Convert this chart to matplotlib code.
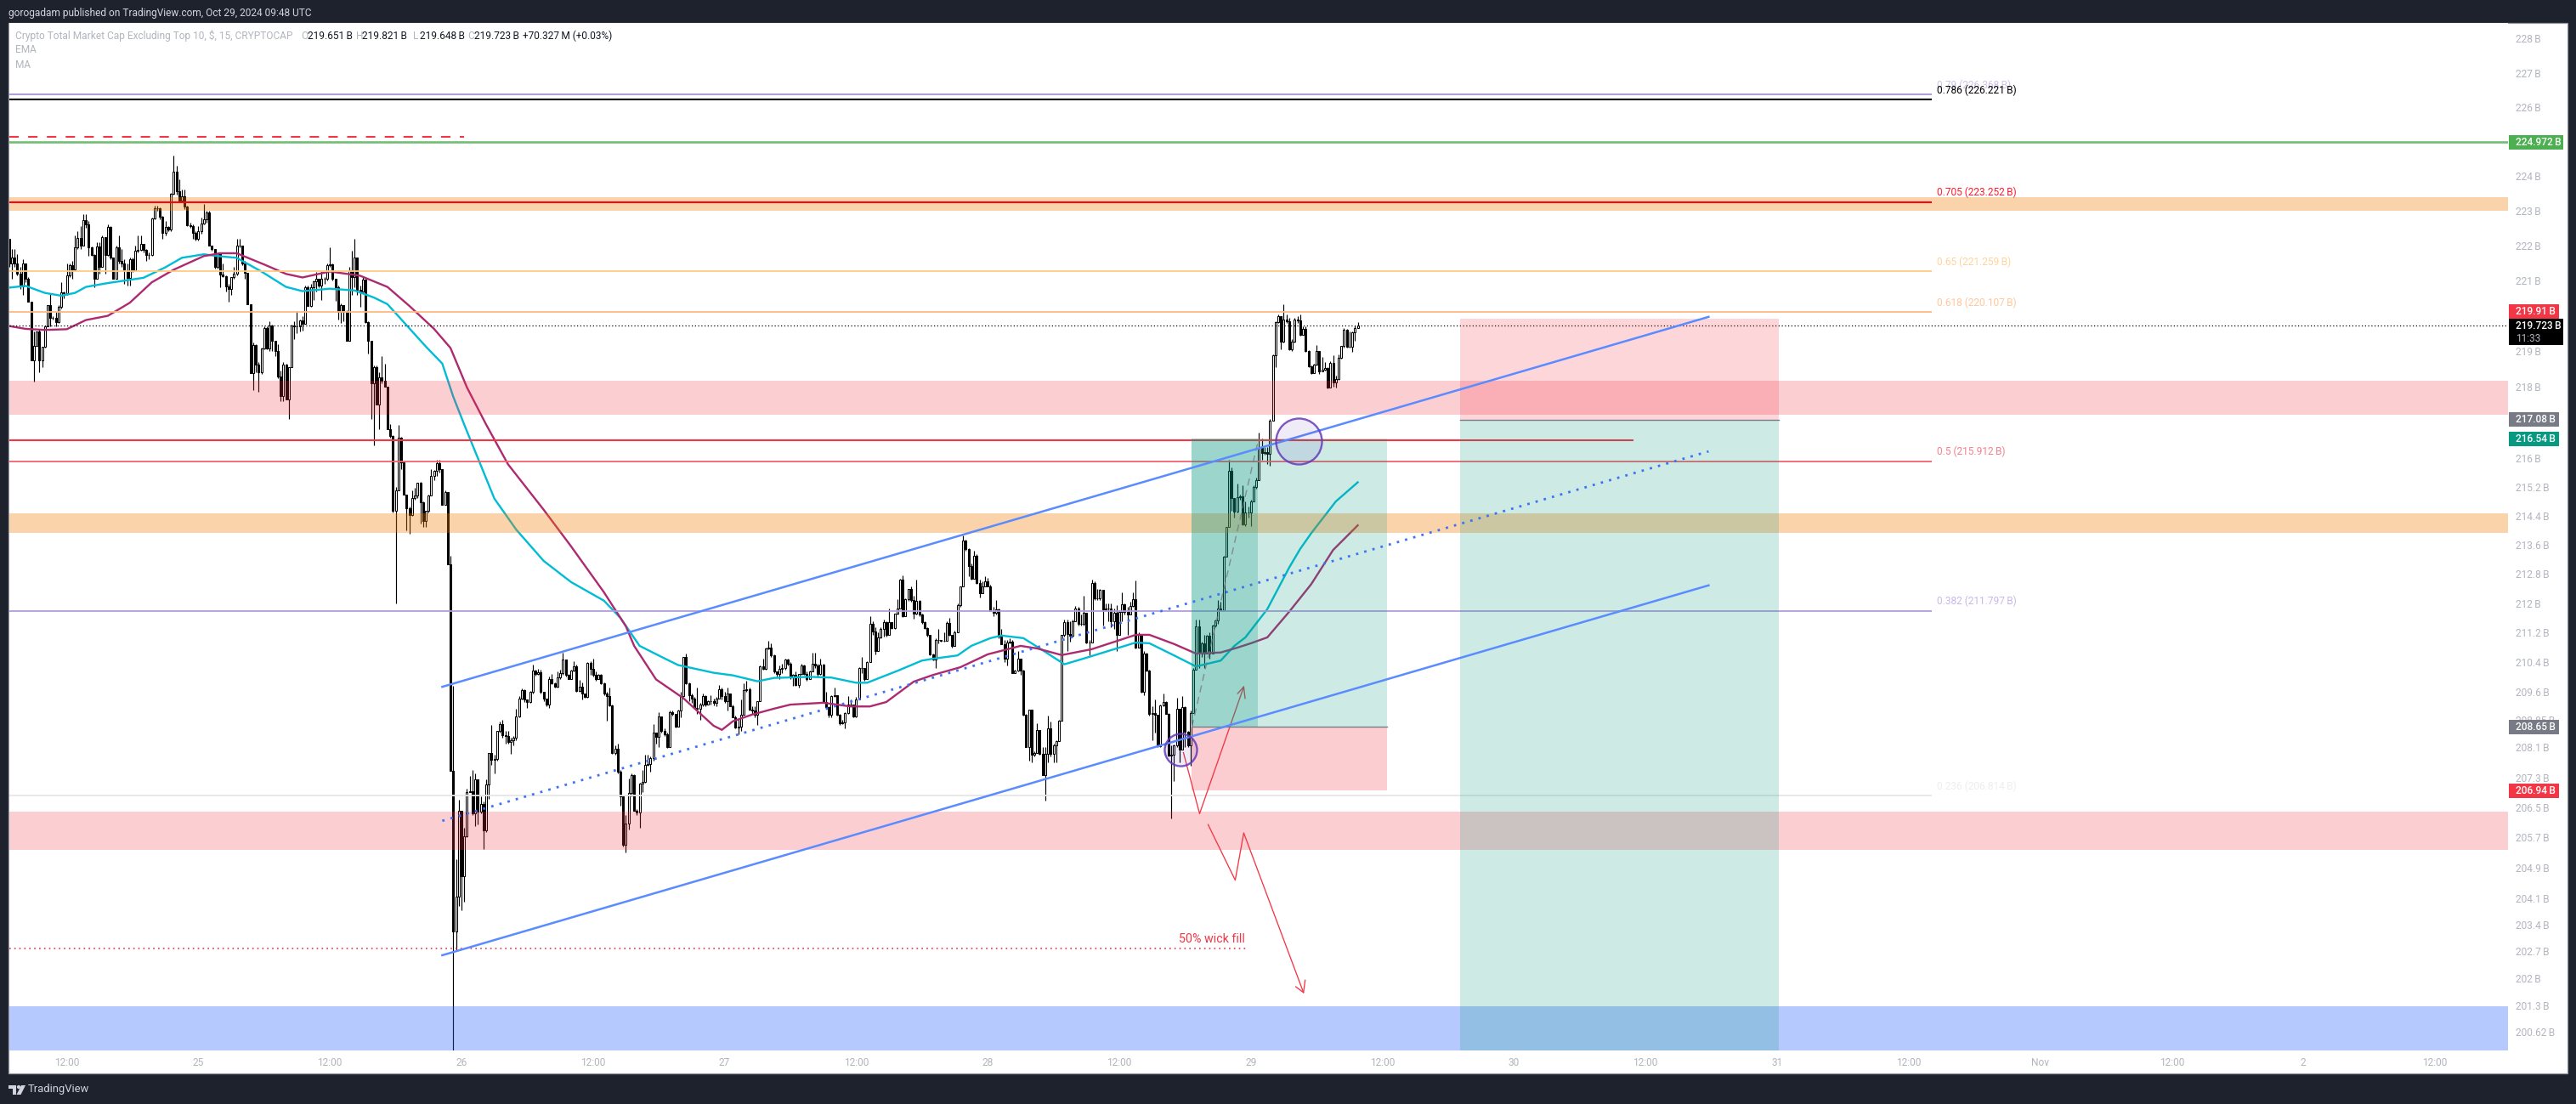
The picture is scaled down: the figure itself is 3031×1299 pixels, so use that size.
import numpy as np
import matplotlib
matplotlib.use("Agg")
import matplotlib.pyplot as plt
from matplotlib.patches import Rectangle, Polygon, Circle
from matplotlib.ticker import NullFormatter

plt.rcParams['font.family'] = ['Roboto', 'DejaVu Sans']

# 15 min candles, open of each bar = previous close
first_open = 222.2
closes = [
221.49,221.66,221.49,221.2,220.84,221.49,221.06,220.4,218.75,219.16,
219.55,218.73,219.12,219.7,220.3,219.95,219.93,219.82,220.25,220.67,
220.65,221.16,221.43,221.33,221.94,222.22,222.0,222.72,222.6,221.95,
221.74,221.05,221.97,221.4,222.25,221.74,222.53,221.65,221.05,221.94,
221.57,221.5,221.3,221.07,221.62,221.3,221.85,221.87,222.05,221.88,
221.74,221.72,222.77,223.08,223.07,222.83,222.36,222.53,222.45,223.48,
224.13,223.57,223.3,223.42,223.13,222.58,222.57,222.36,222.2,222.4,
222.64,222.75,222.95,222.0,221.9,221.4,221.78,221.18,221.12,220.83,
220.76,221.09,221.2,221.99,222,221.5,221.22,220.32,218.38,219.18,
218.63,218.4,219.07,219.66,219.07,219.73,219.3,219.0,218.28,217.73,
218.61,217.65,218.54,219.73,219.69,219.7,219.87,219.77,220.81,220.27,
220.81,220.97,221.06,220.86,221.05,221.05,221.45,221.46,221.05,220.81,
220.11,220.3,220.11,219.29,221.29,221.11,221.66,220.73,220.69,221.02,
219.83,219.29,218.09,218.54,217.51,218.27,218.17,217.99,216.82,216.63,
214.54,215.1,216.57,215.89,215,214.62,214.43,214.89,214.97,215.31,
214.78,214.25,214.53,214.97,215.5,215.66,215.87,215.69,214.71,215.07,
213.07,207.47,203.22,204.14,206.4,204.67,205.73,206.91,206.93,206.35,
207.25,206.38,206.59,205.88,207.11,207.95,207.76,207.8,208.54,208.73,
208.43,208.4,208.24,208.3,208.35,208.92,209.41,209.64,209.39,209.32,
209.59,210.16,210.08,210.13,209.59,209.41,209.24,209.95,209.82,209.73,
209.98,210.1,210.46,210.05,209.95,210.18,210.29,209.62,209.74,209.54,
209.45,210.38,210.22,210.05,209.95,210.05,209.82,209.56,209.48,209.22,
207.95,208.06,207.46,206.78,205.5,206.06,206.89,207.36,206.41,206.36,
207.14,207.17,207.62,207.66,207.81,208.49,208.38,208.92,208.54,208.45,
208.1,209.05,208.99,208.66,209.09,209.48,210.54,209.82,209.5,209.41,
209.15,209.13,209.26,209.48,209.26,209.34,209.34,209.3,209.42,209.67,
209.48,209.34,209.54,209.21,208.91,208.63,208.66,208.98,209.63,209.67,
209.12,209.1,208.98,209.34,210.29,210.21,210.78,210.8,210.58,210.14,
210.07,210.22,210.23,210.46,210.35,209.99,210.05,209.78,210.07,210.3,
210.07,209.93,210.14,210.35,210.3,210.07,210.33,209.31,209.19,208.98,
209.48,209.5,208.98,208.74,208.78,209.02,209.25,209.25,208.93,209.4,
210.25,210.24,209.93,210.4,211.43,211.22,210.71,211.08,211.31,211.48,
211.14,211.48,211.32,211.71,211.85,212.64,211.65,212.11,212.38,212.09,
211.71,212.07,211.7,211.48,211.32,211.14,210.6,210.46,211.0,211.0,
210.98,210.97,211.47,211.14,210.83,211.2,211.96,212.45,213.72,213.49,
213.02,212.68,213.3,212.55,212.28,212.47,212.6,212.47,211.78,211.73,
211.84,211.09,210.89,210.49,210.94,210.96,210.11,210.18,210.49,210.18,
208.98,208.11,209.11,207.91,207.95,208.56,207.93,207.36,207.93,208.62,
207.92,208.16,208.27,208.82,211.14,211.48,211.17,211.11,211.5,211.86,
211.44,211.44,211.74,210.92,210.93,212.55,212.13,212.13,212.36,211.84,
211.86,211.85,211.5,211.74,211.15,211.76,211.98,211.76,211.7,211.92,
212.11,210.79,211.15,209.59,210.64,210.18,209.0,209.03,208.98,208.14,
209.23,209.32,209.0,207.89,207.91,208.16,209.13,208.05,209.19,208.52,
208.16,209.02,210.2,211.37,210.64,210.9,210.64,211.11,210.64,211.4,
211.54,211.86,211.82,213.28,214.09,215.64,214.89,214.51,214.92,214.93,
214.17,214.49,214.49,214.81,215.2,215.4,216.29,216.15,216.17,216.13,
217.04,218.88,219.83,219.98,219.26,219.9,219.85,219.06,219.27,219.9,
219.87,219.45,219.64,219.01,218.58,218.38,218.62,219,218.43,218.48,
218.52,217.97,218.66,218.13,218.22,218.82,219.14,219.61,219.13,219.13,
219.53,219.65,219.723]
highs = [
222.2,221.9,221.9,221.75,221.4,221.6,221.5,221.1,220.4,219.55,
219.55,219.6,219.12,219.7,220.3,220.65,220,220.1,220.3,220.95,
220.7,221.5,221.5,221.55,222.3,222.4,222.55,222.9,222.9,222.7,
221.97,221.75,222.1,222.1,222.3,222.25,222.6,222.55,221.65,222,
222.3,221.9,221.6,221.5,221.65,221.65,222,222.3,222.3,222.05,
221.9,221.8,222.8,223.15,223.15,223.1,222.85,222.7,222.55,223.5,
224.6,224.3,223.9,223.6,223.6,223.15,222.65,222.6,222.4,222.55,
222.8,223.2,223.0,223,222,221.9,221.8,221.78,221.5,221.15,
220.9,221.1,221.4,222.2,222.2,222.0,221.55,221.22,220.32,219.25,
219.2,218.7,219.1,219.7,219.7,219.85,219.75,219.3,219.2,218.45,
218.7,218.65,218.54,219.75,219.85,220.14,219.9,220.0,220.85,220.85,
220.9,221.0,221.25,221.0,221.26,221.1,221.5,221.94,221.5,221.05,
220.85,220.35,220.3,220.15,221.4,221.85,222.2,221.66,220.85,221.1,
221.05,219.85,219.3,218.6,218.6,218.4,218.85,218.65,218.0,216.95,
216.65,215.2,216.93,216.6,215.9,215,214.65,215.1,215.18,215.33,
215.35,214.8,214.55,215,215.7,215.68,215.95,215.95,215.7,215.1,
215.07,213.3,209.75,205.13,206.7,206.4,205.95,207.0,207.33,207.5,
207.4,207.25,206.8,206.66,207.25,207.95,208.71,207.9,208.55,208.8,
208.83,208.55,208.55,208.35,208.4,209.13,209.48,209.68,209.66,209.4,
209.62,210.34,210.2,210.22,210.2,209.6,209.42,210,210.07,209.85,
210.15,210.2,210.65,210.47,210.08,210.2,210.42,210.32,209.92,209.85,
209.56,210.4,210.42,210.5,210.15,210.08,210.07,209.85,209.6,209.7,
209.25,208.15,208.2,207.5,206.75,206.3,207.26,207.4,207.37,206.45,
207.15,207.5,207.9,207.9,207.85,208.72,208.5,209.05,208.92,208.6,
208.5,209.08,209.1,209.0,209.12,209.6,210.55,210.63,209.85,209.55,
209.45,209.7,209.3,209.55,209.5,209.36,209.5,209.42,209.45,209.77,
209.7,209.6,209.7,209.56,209.25,208.95,208.87,209.4,209.83,209.9,
209.7,209.2,209.2,209.35,210.3,210.5,210.8,210.98,210.9,210.6,
210.15,210.3,210.35,210.5,210.5,210.4,210.07,210.15,210.08,210.35,
210.32,210.15,210.18,210.65,210.65,210.35,210.5,210.35,209.6,209.2,
209.5,209.7,209.5,209.0,208.85,209.05,209.48,209.4,209.25,209.45,
210.27,210.55,210.25,210.43,211.65,211.5,211.35,211.2,211.35,211.55,
211.5,211.85,211.48,211.72,212.12,212.66,212.77,212.13,212.4,212.47,
212.2,212.65,212.08,211.72,211.5,211.35,211.15,210.62,211.05,211.3,
211.0,211.2,211.5,211.6,211.15,211.25,212.0,212.47,213.85,213.75,
213.5,213.1,213.45,213.35,212.65,212.6,212.75,212.7,212.5,211.9,
212.1,211.85,211.3,211.0,211.0,211.05,211.0,210.2,210.7,210.5,
210.2,209.0,209.12,209.12,208.0,208.75,208.57,208.1,208.1,208.95,
208.8,208.2,208.3,208.85,211.15,211.55,211.55,211.5,211.55,211.92,
211.9,211.7,212.2,211.75,211.0,212.65,212.6,212.4,212.4,212.37,
212.0,212.0,212.0,211.85,211.95,211.8,212.3,212.0,211.9,212.05,
212.3,212.62,211.2,211.17,210.7,210.66,210.2,209.2,209.4,208.98,
209.25,209.55,209.34,209.02,208.15,208.18,209.44,209.14,209.47,209.2,
208.55,209.1,210.25,211.55,211.55,210.95,211.15,211.15,211.2,211.42,
211.56,212.08,212.05,213.3,214.1,215.95,215.75,214.9,215.3,215.0,
215.24,214.8,214.65,214.85,215.25,215.45,216.72,216.55,216.3,216.3,
217.1,218.9,219.85,220.05,220,220.32,220.05,219.94,219.35,219.95,
220.0,220.05,219.7,219.7,219.02,218.6,218.65,219.17,219.0,218.84,
218.7,218.55,218.72,218.88,218.3,218.9,219.15,219.65,219.63,219.55,
219.55,219.72,219.821]
lows = [
221.4,221.05,221.4,221.16,220.76,220.6,220.95,220.4,218.75,218.15,
219.16,218.4,218.55,219.1,219.7,219.7,219.9,219.7,219.8,220.2,
220.5,220.6,221.1,221.05,221.3,221.9,221.9,222.0,222.5,221.7,
221.7,220.8,221.05,221.2,221.4,221.2,221.7,221.6,221.05,221.05,
221.5,221.4,220.9,220.85,220.85,221.25,221.3,221.8,221.85,221.8,
221.55,221.6,221.7,222.75,223.0,222.75,222.2,222.3,222.4,222.4,
223.45,223.45,223.25,223.3,223.05,222.55,222.5,222.2,222.15,222.15,
222.35,222.6,222.65,222.0,221.85,221.35,221.35,220.8,221.1,220.7,
220.4,220.6,221.05,221.15,221.95,221.45,221.05,220.32,218.38,217.9,
218.4,217.85,218.35,219.05,219.05,219.0,219.0,218.85,218.25,217.6,
217.6,217.65,217.1,218.54,219.33,219.5,219.55,219.58,219.77,220.27,
220.25,220.45,220.7,220.8,220.45,220.9,221.0,221.4,221.0,220.43,
219.9,219.8,219.85,219.29,219.29,220.6,220.8,220.6,220.25,220.66,
219.8,218.93,217.09,216.37,217.51,216.8,218.1,217.99,216.82,216.57,
214.5,212.0,215.1,215.7,215,214.0,213.9,214.4,214.85,214.9,
214.2,214.1,214.1,214.5,215.0,215.38,215.5,215.6,214.7,214.7,
213.07,207.47,200.13,202.74,203.9,203.77,204.0,205.7,206.9,206.3,
206.0,206.05,206.35,205.4,205.85,206.72,207.62,207.4,207.75,208.5,
208.35,208.2,208.2,207.93,208.15,208.3,208.9,209.4,209.32,209.15,
209.3,209.55,210.04,210.05,209.55,209.35,209.2,209.17,209.8,209.7,
209.7,209.95,210.05,210.0,209.93,209.93,210.15,209.6,209.6,209.4,
209.43,209.43,210.05,210,209.9,209.93,209.8,209.5,208.82,209.2,
207.92,207.9,207.4,206.55,205.45,205.3,205.9,206.8,206.4,206.3,
205.95,206.9,207.15,207.6,207.45,207.75,208.2,208.1,208.5,208.4,
208.08,208.1,208.95,208.64,208.65,208.9,209.45,209.8,209.35,209.3,
209.13,209.0,208.85,209.2,209.2,209.25,209.25,209.22,209.2,209.42,
209.4,209.3,209.1,209.2,208.9,208.6,208.45,208.55,208.98,209.6,
209.1,209,208.9,208.7,209.34,210.2,210.2,210.75,210.55,210.1,
210.0,209.95,210.1,210.2,210.3,209.95,209.75,209.75,209.7,210.05,
210.05,209.9,209.93,210.14,210.25,210.0,210.05,209.3,209.15,208.91,
208.9,209.45,208.95,208.7,208.72,208.6,209.0,209.2,208.9,208.9,
209.4,210.1,209.9,209.93,210.4,211.15,210.6,210.7,211.05,211.1,
211.1,211.14,211.3,211.3,211.7,211.85,211.63,211.65,212.07,212.05,
211.58,211.7,211.65,211.45,211.3,211.1,210.58,210.44,210.25,210.9,
210.95,210.95,210.97,211.12,210.8,210.83,211.2,211.9,212.45,213.45,
212.75,212.65,212.68,212.53,212.15,212.28,212.45,212.45,211.78,211.65,
211.7,211.05,210.89,210.4,210.3,210.9,210.1,210.1,210.15,210.05,
208.95,208.1,207.75,207.7,207.85,207.95,207.9,207.35,206.67,207.7,
207.85,207.7,207.7,208.27,208.82,211.1,210.69,210.95,211.1,211.5,
211.4,211.4,211.4,210.9,210.58,210.93,212.1,212.1,212.1,211.4,
211.8,211.5,211.35,211.3,210.7,211.15,211.5,211.7,211.15,211.7,
211.9,210.78,210.79,209.57,209.5,210.15,208.95,208.3,208.5,208.1,
208.1,209.2,209,207.85,206.21,207.2,208.1,207.7,208.05,208.1,
208.1,207.6,209.02,210.2,210.25,210.55,210.25,210.64,210.5,210.64,
211.35,211.45,211.8,211.82,213.28,214.09,214.55,214.35,214.5,214.85,
214.15,214.13,214.35,214.11,214.8,215.15,215.4,215.95,216.1,215.83,
215.8,217.04,218.55,219.8,219.05,219.25,219.8,219.02,219.0,219.25,
219.8,219.43,219.45,218.98,218.55,218.35,218.37,218.6,218.35,218.42,
218.45,217.95,217.97,218.0,217.97,218.2,218.8,219.1,219.1,219.1,
218.97,219.3,219.648]

# EMA and MA read at the bends of the curves
ema_bars = [1,7,14,20,25,29,37,50,58,64,72,77,84,93,102,108,118,127,134,139,146,153,159,163,167,172,178,186,196,206,
            218,224,231,239,245,258,265,274,280,293,301,310,314,325,334,338,347,352,359,363,371,377,386,395,405,412,417,
            426,434,443,448,452,460,468,472,476,485,493]
ema_vals = [220.80,220.85,220.65,220.57,220.65,220.82,220.93,221.08,221.38,221.65,221.75,221.7,221.65,221.26,220.82,220.7,
            220.77,220.72,220.52,220.33,219.73,219.13,218.65,217.72,216.94,216,214.88,214.02,213.16,212.58,
            212.07,211.6,210.84,210.54,210.32,210.11,210.04,209.88,209.97,210,209.98,209.84,209.84,210.16,210.44,210.49,
            210.58,210.84,211.05,211.12,211.05,210.77,210.34,210.54,210.77,210.93,210.91,
            210.58,210.28,210.44,210.84,211.07,211.84,212.98,213.49,213.92,214.8,215.33]
ma_bars = [1,7,14,22,29,37,45,53,61,72,78,84,94,102,108,118,129,139,147,156,162,168,175,183,196,206,218,226,229,237,247,258,
           261,265,272,280,286,298,308,315,321,331,338,348,358,370,376,385,396,412,417,426,434,443,449,454,460,468,476,484,493]
ma_vals = [219.71,219.63,219.6,219.62,219.88,220,220.37,220.95,221.31,221.7,221.78,221.78,221.46,221.19,221.09,221.26,221.14,
           220.82,220.28,219.63,219.09,217.98,216.94,215.83,214.57,213.56,212.3,211.37,210.84,209.93,209.42,208.68,
           208.57,208.8,208.98,209.14,209.25,209.3,209.2,209.2,209.32,209.87,210.05,210.26,210.61,210.84,210.77,210.59,
           210.75,211.14,211.14,210.89,210.63,210.66,210.79,210.91,211.07,211.77,212.52,213.46,214.14]

# price scale
price_ticks = [228,227,226,224,223,222,221,219,218,216,215.2,214.4,213.6,212.8,212,211.2,210.4,209.6,208.85,208.1,207.3,
               206.5,205.7,204.9,204.1,203.4,202.7,202,201.3,200.62]
price_tick_labels = ['%g\u2009B' % p for p in price_ticks]
y_min = 200.13
y_max = 228.46

# time scale
time_labels = ['12:00','25','12:00','26','12:00','27','12:00','28','12:00','29','12:00','30','12:00','31','12:00','Nov',
               '12:00','2','12:00']
time_ticks = [22,70,118,166,214,262,310,358,406,454,502,550,598,646,694,742,790,838,886]
x_min = 0.9
x_max = 912.5

# fib levels
fib_levels = [0.79,0.786,0.705,0.65,0.618,0.5,0.382,0.236]
fib_prices = [226.368,226.221,223.252,221.259,220.107,215.912,211.797,206.814]
fib_colors = ['#b39ddb','#000000','#ff0015','#ffcc80','#ffb980','#f0626f','#b39ddb','#e6e6e6']
fib_label_colors = ['#cfc3e8','#000000','#ff1a2e','#ffd49b','#ffc79b','#f5808b','#c8b8e8','#eeeeee']
fib_end = 702.3

# zones low, high
zone_lows = [222.99,217.22,213.93,205.37,200.13]
zone_highs = [223.39,218.17,214.47,206.38,201.27]
zone_colors = ['#f57c00','#f23645','#f57c00','#f23645','#2962ff']
zone_alpha = [0.33,0.24,0.33,0.24,0.34]

# channel, bar + price at both ends
channel_bars = [159,621]
channel_top = [209.73,219.97]
channel_mid = [206.14,216.19]
channel_low = [202.6,212.49]

# boxes on the right scale
box_text = ['224.972\u2009B','219.91\u2009B','217.08\u2009B','216.54\u2009B','208.65\u2009B','206.94\u2009B']
box_color = ['#4caf50','#f23645','#787b86','#089981','#787b86','#f23645']
box_price = [224.972,219.91,217.08,216.54,208.65,206.94]
box_width = [64,59,59,59,59,59]

bars = np.arange(1, len(closes) + 1)
closes = np.array(closes)
highs = np.array(highs)
lows = np.array(lows)
opens = np.r_[first_open, closes[:-1]]

W, H = 3031, 1299
fig = plt.figure(figsize=(W / 100, H / 100), dpi=100, facecolor='#1e222d')


def fx(x):
    return x / W


def fy(y):
    return 1 - y / H


fig.add_artist(Rectangle((fx(10), fy(1263)), (3020.5 - 10) / W, (1263 - 27) / H, transform=fig.transFigure,
                         facecolor='white', edgecolor='#9598a1', lw=0.9, zorder=-1))

ax = fig.add_axes([fx(10.5), fy(1236), (2950.5 - 10.5) / W, (1236 - 27) / H], facecolor='white')
ax.set_yscale('log')
ax.set_xlim(x_min, x_max)
ax.set_ylim(y_min, y_max)
for s in ax.spines.values():
    s.set_visible(False)
ax.yaxis.tick_right()
ax.yaxis.set_minor_formatter(NullFormatter())
ax.set_yticks([], minor=True)
ax.set_yticks(price_ticks, price_tick_labels)
ax.set_xticks(time_ticks, time_labels)
ax.tick_params(axis='y', length=0, pad=6.5, labelsize=8.6, labelcolor='#b2b5be')
ax.tick_params(axis='x', length=0, pad=6, labelsize=8.6, labelcolor='#b2b5be')

# candles
ax.vlines(bars, lows, highs, color='black', lw=0.85, zorder=2)
up = closes >= opens
ax.bar(bars[up], (closes - opens)[up], bottom=opens[up], width=0.62, color='white', edgecolor='black', lw=0.75, zorder=2.1)
ax.bar(bars[~up], (closes - opens)[~up], bottom=opens[~up], width=0.62, color='black', edgecolor='black', lw=0.75, zorder=2.1)

# EMA, MA
ax.plot(ema_bars, ema_vals, color='#00bcd4', lw=1.7, zorder=2.5, solid_joinstyle='round')
ax.plot(ma_bars, ma_vals, color='#ad2a70', lw=1.7, zorder=2.5, solid_joinstyle='round')

# zones sit over the candles
for lo, hi, col, al in zip(zone_lows, zone_highs, zone_colors, zone_alpha):
    ax.axhspan(lo, hi, facecolor=col, alpha=al, lw=0, zorder=3)

# fib
for lev, pr, col, lcol in zip(fib_levels, fib_prices, fib_colors, fib_label_colors):
    ax.plot([x_min, fib_end], [pr, pr], color=col, lw=1.5 if lev in (0.79, 0.786, 0.705) else 1.3, zorder=3.2, solid_capstyle='butt')
    ax.annotate('%g (%.3f\u2009B)' % (lev, pr), (fib_end, pr), xytext=(4.5, 8), textcoords='offset points', color=lcol,
                fontsize=8.6, va='center', ha='left', zorder=3.3)

ax.axhline(224.972, color='#4caf50', alpha=0.8, lw=1.9, zorder=3.2)
ax.plot([x_min, 167], [225.12, 225.12], color='#f23645', lw=1.5, ls=(0, (5.3, 5.3)), zorder=3.2)
ax.axhline(219.723, color='black', lw=0.9, ls=(0, (1, 2)), zorder=3.2)
ax.plot([x_min, 593.5], [216.51, 216.51], color='#f23645', lw=1.5, zorder=3.2, solid_capstyle='butt')
ax.plot([x_min, 453], [202.78, 202.78], color='#f23645', lw=1.2, ls=(0, (1, 2.5)), zorder=3.2)

# arrows under the position boxes
ax.plot([429.4, 435.3, 451.4], [207.96, 206.33, 209.73], color='#f23645', lw=0.95, zorder=3.4)
ax.plot([449.2, 451.4, 451.9], [209.55, 209.73, 209.42], color='#f23645', lw=0.95, zorder=3.4)
ax.plot([438.4, 448.3, 451.4, 473.2], [206.04, 204.57, 205.82, 201.63], color='#f23645', lw=0.95, zorder=3.4)
ax.plot([470.4, 473.2, 473.8], [201.78, 201.63, 201.95], color='#f23645', lw=0.95, zorder=3.4)

# first position
ax.add_patch(Rectangle((432.5, 208.65), 503.6 - 432.5, 216.54 - 208.65, facecolor='#089981', alpha=0.2, lw=0, zorder=3.5))
ax.add_patch(Rectangle((432.5, 208.65), 456.7 - 432.5, 216.54 - 208.65, facecolor='#089981', alpha=0.25, lw=0, zorder=3.5))
ax.add_patch(Rectangle((432.5, 206.94), 503.6 - 432.5, 208.65 - 206.94, facecolor='#f23645', alpha=0.25, lw=0, zorder=3.5))
ax.plot([432.5, 503.6], [208.65, 208.65], color='#787b86', lw=1.0, zorder=3.6)
ax.plot([432.5, 456.7], [208.65, 216.5], color='#787b86', lw=1.0, ls=(0, (6, 4)), alpha=0.8, zorder=3.6)

# second position
ax.add_patch(Rectangle((530.2, 217.08), 646.5 - 530.2, 219.91 - 217.08, facecolor='#f23645', alpha=0.2, lw=0, zorder=3.5))
ax.add_patch(Rectangle((530.2, y_min), 646.5 - 530.2, 217.08 - y_min, facecolor='#089981', alpha=0.2, lw=0, zorder=3.5))
ax.plot([530.2, 646.5], [217.08, 217.08], color='#787b86', lw=1.0, zorder=3.6)

# channel
ax.plot(channel_bars, channel_top, color='#5b8cff', lw=1.8, zorder=3.7)
ax.plot(channel_bars, channel_low, color='#5b8cff', lw=1.8, zorder=3.7)
ax.plot(channel_bars, channel_mid, color='#3d74f5', lw=2.0, ls=(0, (1, 2.6)), zorder=3.7)

# circles
ax.scatter([471.3], [216.48], s=1513, facecolor=(0.40, 0.23, 0.72, 0.1), edgecolor=(0.40, 0.23, 0.72, 0.85), lw=1.7, zorder=3.8)
ax.scatter([428.4], [208.04], s=750, facecolor=(0.40, 0.23, 0.72, 0.1), edgecolor=(0.40, 0.23, 0.72, 0.85), lw=1.7, zorder=3.8)

ax.text(427.6, 202.86, '50% wick fill', color='#f23645', fontsize=10.3, ha='left', va='bottom', zorder=4)

# right scale boxes
for t, col, pr, bw in zip(box_text, box_color, box_price, box_width):
    yp = ax.transData.transform((1, pr))[1]
    if t.startswith('219.91'):
        yp += 8.5
    fig.add_artist(Rectangle((2951.5, yp - 8.5), bw, 17, transform=None, facecolor=col, edgecolor='none', zorder=5))
    fig.text(fx(2960), yp / H, t, color='white', fontsize=8.6, va='center', ha='left', zorder=6, fontweight='medium')
yp = ax.transData.transform((1, 219.723))[1]
fig.add_artist(Rectangle((2951.5, yp - 22.5), 64, 31, transform=None, facecolor='black', edgecolor='none', zorder=5))
fig.text(fx(2960), yp / H, '219.723\u2009B', color='white', fontsize=8.6, va='center', ha='left', zorder=6, fontweight='medium')
fig.text(fx(2960), (yp - 15) / H, '11:33', color='#b2b5be', fontsize=8.6, va='center', ha='left', zorder=6)

# header and legend
fig.text(fx(10), fy(15), 'gorogadam published on TradingView.com, Oct 29, 2024 09:48 UTC', color='#d1d4dc', fontsize=8.6, va='center')
fig.text(fx(18), fy(42), 'Crypto Total Market Cap Excluding Top 10, $, 15, CRYPTOCAP', color='#b2b5be', fontsize=8.6, va='center')
for xp, lab, val in zip([354.5, 419, 486, 550], ['O', 'H', 'L', 'C'],
                        ['219.651\u2009B', '219.821\u2009B', '219.648\u2009B', '219.723\u2009B']):
    fig.text(fx(xp), fy(42), lab, color='#b2b5be', fontsize=8.6, va='center')
    fig.text(fx(xp + 7.5), fy(42), val, color='#131722', fontsize=8.6, va='center')
fig.text(fx(615), fy(42), '+70.327\u2009M (+0.03%)', color='#131722', fontsize=8.6, va='center')
fig.text(fx(18), fy(59), 'EMA', color='#b2b5be', fontsize=8.6, va='center')
fig.text(fx(18), fy(76), 'MA', color='#b2b5be', fontsize=8.6, va='center')

# logo + footer
logo_col = '#d1d4dc'
logo_t = [(10, 1277), (19, 1277), (19, 1288), (14.5, 1288), (14.5, 1281), (10, 1281)]
logo_s = [(25, 1277), (30, 1277), (24.5, 1288), (19.5, 1288)]
fig.add_artist(Polygon([(x, H - y) for x, y in logo_t], closed=True, transform=None, facecolor=logo_col, edgecolor='none'))
fig.add_artist(Polygon([(x, H - y) for x, y in logo_s], closed=True, transform=None, facecolor=logo_col, edgecolor='none'))
fig.add_artist(Circle((22, H - 1279), 2.1, transform=None, facecolor=logo_col, edgecolor='none'))
fig.text(fx(33), fy(1282), 'TradingView', color='#d1d4dc', fontsize=9.4, va='center')

fig.savefig('out.png', dpi=100, facecolor=fig.get_facecolor())
